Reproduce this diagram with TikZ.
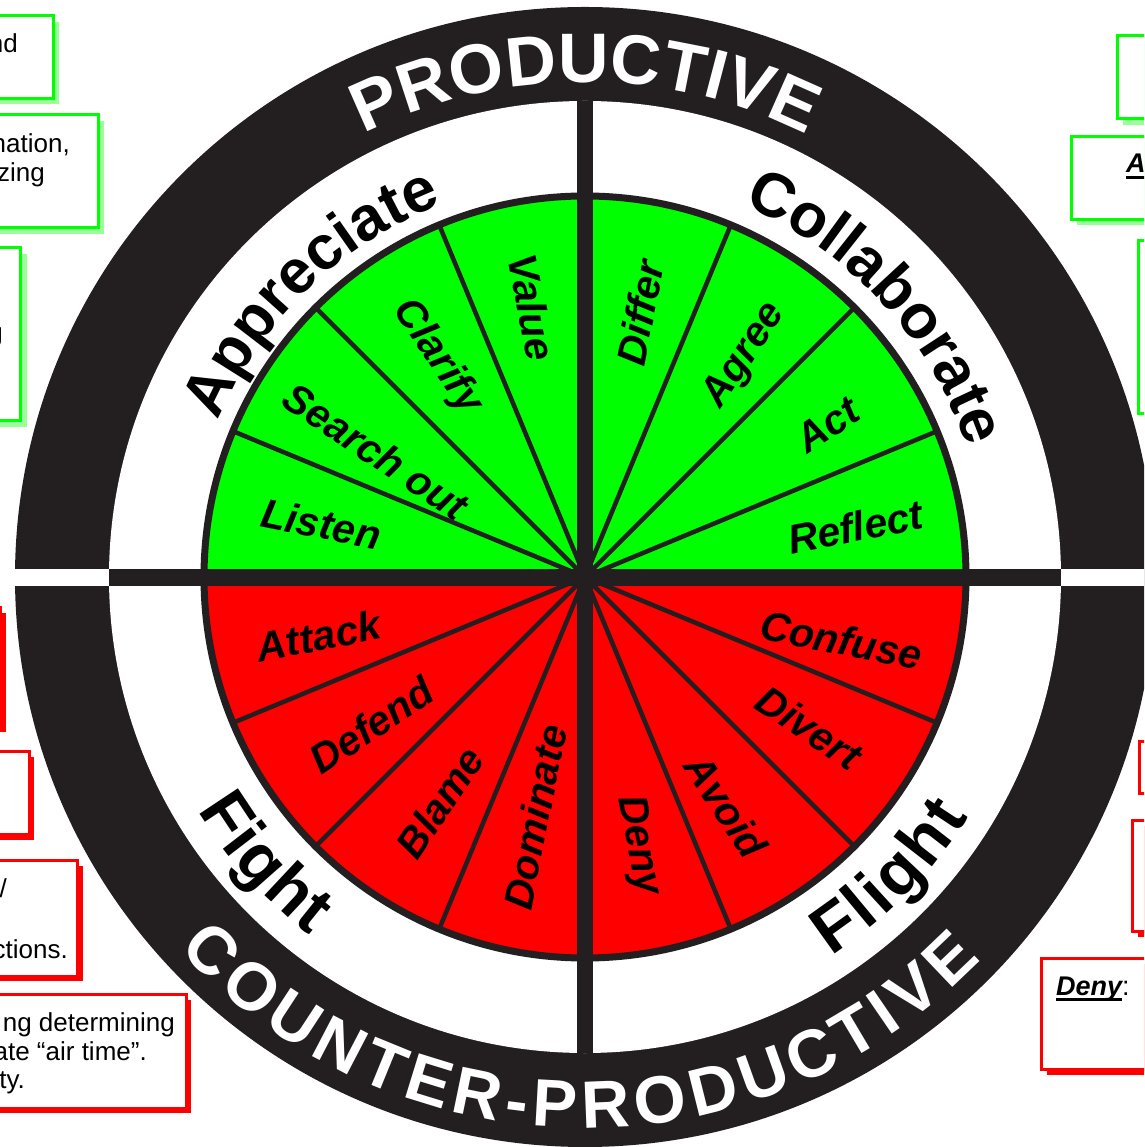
\documentclass[tikz,border=0pt]{standalone}
\usepackage{fontspec}
\setmainfont{Liberation Sans}
\usepackage{xcolor}
\usepackage{tikz}
\usetikzlibrary{
  decorations.text,
  shadows,
  positioning
}
\definecolor{ringblack}{RGB}{35,31,32}
\definecolor{keepgreen}{RGB}{0,255,0}
\definecolor{dropred}{RGB}{255,0,0}

\newcommand{\ringfont}{\fontsize{70}{70}\selectfont\bfseries}
\newcommand{\counterfont}{\fontsize{67}{67}\selectfont\bfseries}
\newcommand{\groupfont}{\fontsize{62}{62}\selectfont\bfseries}
\newcommand{\moodfont}{\fontsize{67}{67}\selectfont\bfseries}
% bold italic word with a heavy underline
\newsavebox{\wordbox}
\newcommand{\keyword}[1]{\sbox{\wordbox}{\bfseries\itshape #1}%
  \rlap{\rule[-6pt]{\wd\wordbox}{3pt}}\usebox{\wordbox}}

\begin{document}
\begin{tikzpicture}[x=1pt, y=1pt,
  sector/.style={font=\fontsize{41}{41}\selectfont\bfseries\itshape, inner sep=0pt},
  spoke/.style={draw=ringblack, line width=4.5pt},
  greennote/.style={draw=keepgreen, line width=3pt, fill=white, outer sep=0pt, minimum width=400pt,
    drop shadow={shadow xshift=6pt, shadow yshift=-6pt, fill=keepgreen!40, opacity=1}},
  rednote/.style={draw=dropred, line width=3pt, fill=white, outer sep=0pt, minimum width=400pt,
    drop shadow={shadow xshift=5pt, shadow yshift=-5pt, fill=dropred, opacity=1}},
  notetext/.style={font=\fontsize{26}{29}\selectfont, inner sep=0pt}
]
  \useasboundingbox (-585,-570) rectangle (559,577);
  \clip (-585,-570) rectangle (559,577);
  \coordinate (hub) at (0,0);

  % notes down the left side
  \node[greennote, minimum height=82.5pt, anchor=north east] (appnote1) at (-531.5,561) {};
  \node[greennote, minimum height=113pt, anchor=north east] (appnote2) at (-486.5,462) {};
  \node[greennote, minimum height=173pt, anchor=north east] (appnote3) at (-564.3,329) {};
  \node[rednote, minimum height=119pt, anchor=north east] (fightnote1) at (-584,-31) {};
  \node[rednote, minimum height=83pt, anchor=north east] (fightnote2) at (-555.5,-174.5) {};
  \node[rednote, minimum height=115.5pt, anchor=north east] (fightnote3) at (-507,-283.5) {};
  \node[rednote, minimum height=113.5pt, anchor=north east] (fightnote4) at (-398.5,-417.5) {};
  \node[notetext, anchor=base east] (nd) at (-567,524) {nd};
  \node[notetext, anchor=base east] (nation) at (-515,424) {nation,};
  \node[notetext, anchor=base east] (zing) at (-540,395) {zing};
  \node[notetext, anchor=base east] (gtail) at (-582,235) {g};
  \node[notetext, anchor=base east] (slash) at (-578,-320) {/};
  \node[notetext, anchor=base east] (ctions) at (-517,-381) {ctions.};
  \node[notetext, anchor=base east] (determ) at (-410,-454) {ng determining};
  \node[notetext, anchor=base east] (airtime) at (-438,-483) {ate “air time”.};
  \node[notetext, anchor=base east] (ty) at (-560,-511) {ty.};

  % notes down the right side
  \node[greennote, minimum height=83.4pt, anchor=north west] (collnote1) at (532.3,541.7) {};
  \node[greennote, minimum height=83pt, anchor=north west] (collnote2) at (486.3,440.7) {};
  \node[greennote, minimum height=173pt, anchor=north west] (collnote3) at (553,336.3) {};
  \node[rednote, minimum height=51.5pt, anchor=north west] (flightnote1) at (554.5,-165) {};
  \node[rednote, minimum height=111pt, anchor=north west] (flightnote2) at (547.5,-243.5) {};
  \node[rednote, minimum height=111pt, anchor=north west] (flightnote3) at (456.5,-381.8) {};
  \node[notetext, font=\fontsize{27}{29}\selectfont, anchor=base west] (aword) at (541,404) {\keyword{A}};
  \node[notetext, font=\fontsize{27}{29}\selectfont, anchor=base west] (denyword) at (471,-418) {\keyword{Deny}:};

  % outer ring and the cross bars
  \fill[ringblack] (hub) circle[radius=570];
  \fill[white] (hub) circle[radius=476];
  \fill[white] (-600,-9) rectangle (600,8);
  \fill[ringblack] (-476,-9) rectangle (476,8);

  % the wheel
  \fill[keepgreen] (hub) -- (0:381) arc[start angle=0, end angle=180, radius=381] -- cycle;
  \fill[dropred] (hub) -- (180:381) arc[start angle=180, end angle=360, radius=381] -- cycle;
  \draw[spoke] (hub) -- (22.5:381);
  \draw[spoke] (hub) -- (45:381);
  \draw[spoke] (hub) -- (67.5:381);
  \draw[spoke] (hub) -- (112.5:381);
  \draw[spoke] (hub) -- (135:381);
  \draw[spoke] (hub) -- (157.5:381);
  \draw[spoke] (hub) -- (202.5:381);
  \draw[spoke] (hub) -- (225:381);
  \draw[spoke] (hub) -- (247.5:381);
  \draw[spoke] (hub) -- (292.5:381);
  \draw[spoke] (hub) -- (315:381);
  \draw[spoke] (hub) -- (337.5:381);
  \draw[ringblack, line width=7pt] (hub) circle[radius=381];
  \fill[ringblack] (-476,-9) rectangle (476,8);
  \fill[ringblack] (-8,-476) rectangle (8,476);

  % ring titles
  \path[decorate, decoration={text along path, text align={fit to path},
      text={|\ringfont\color{white}|PRODUCTIVE}}]
    (116.5:495) arc[start angle=116.5, end angle=63.5, radius=495];
  \path[decorate, decoration={text along path, text align={fit to path},
      text={|\counterfont\color{white}|COUNTER-PRODUCTIVE}}]
    (222.5:551) arc[start angle=222.5, end angle=316, radius=551];
  \path[decorate, decoration={text along path, text align={fit to path},
      text={|\groupfont|Appreciate}}]
    (157:399) arc[start angle=157, end angle=112, radius=399];
  \path[decorate, decoration={text along path, text align={fit to path},
      text={|\groupfont|Collaborate}}]
    (67:404) arc[start angle=67, end angle=19, radius=404];
  \path[decorate, decoration={text along path, text align={fit to path},
      text={|\moodfont|Fight}}]
    (211:452) arc[start angle=211, end angle=232.5, radius=452];
  \path[decorate, decoration={text along path, text align={fit to path},
      text={|\moodfont|Flight}}]
    (303:452) arc[start angle=303, end angle=328, radius=452];

  % sector words
  \node[sector, rotate=-11.25] (listen) at (168.6:269) {Listen};
  \node[sector, rotate=-33.75] (searchout) at (149:244) {Search out};
  \node[sector, rotate=-56.25] (clarify) at (123.9:265) {Clarify};
  \node[sector, rotate=-78.75] (value) at (101.1:275) {Value};
  \node[sector, rotate=78.75] (differ) at (78.2:270) {Differ};
  \node[sector, rotate=56.25] (agree) at (54.1:273) {Agree};
  \node[sector, rotate=33.75] (act) at (32.1:286) {Act};
  \node[sector, rotate=11.25] (reflect) at (10.5:275) {Reflect};
  \node[sector, rotate=11.25] (attack) at (192.5:273) {Attack};
  \node[sector, rotate=33.75] (defend) at (214.7:260) {Defend};
  \node[sector, rotate=56.25] (blame) at (237.2:268) {Blame};
  \node[sector, rotate=78.75] (dominate) at (258.2:245) {Dominate};
  \node[sector, rotate=-78.75] (deny) at (281.1:274) {Deny};
  \node[sector, rotate=-56.25] (avoid) at (301.6:269) {Avoid};
  \node[sector, rotate=-33.75] (divert) at (326.2:270) {Divert};
  \node[sector, rotate=-11.25] (confuse) at (346.2:264) {Confuse};
\end{tikzpicture}
\end{document}
